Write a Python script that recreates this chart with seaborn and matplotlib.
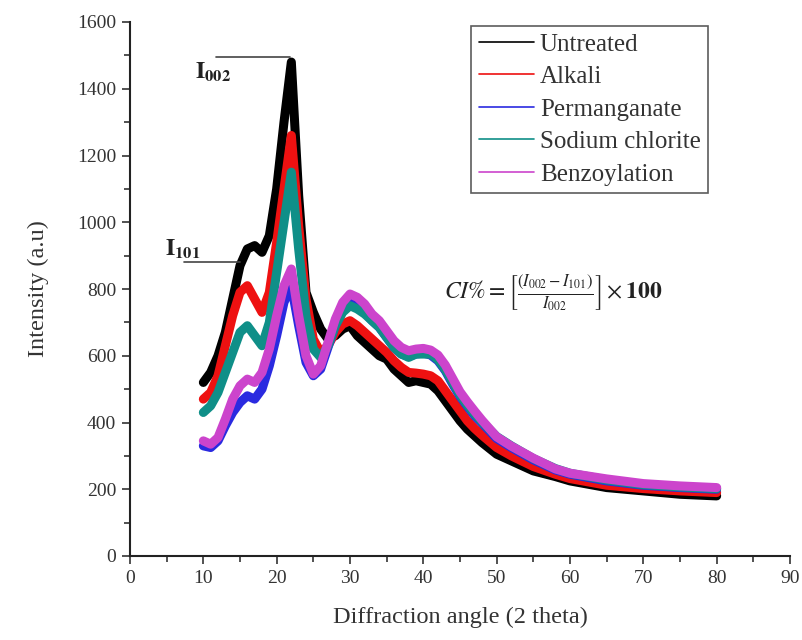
import numpy as np
import pandas as pd
import matplotlib
matplotlib.use("Agg")
import matplotlib.pyplot as plt
from matplotlib.lines import Line2D
import seaborn as sns

# ---- data ----
angle = [10, 11, 12, 13, 14, 15, 16, 17, 18, 19, 20, 21, 22, 23, 24, 25, 26, 27, 28, 29,
         30, 31, 32, 33, 34, 35, 36, 37, 38, 39, 40, 41, 42, 43, 44, 45, 46, 47, 48,
         50, 52, 55, 58, 60, 65, 70, 75, 80]

untreated = [520, 550, 600, 670, 770, 870, 920, 930, 910, 960, 1100, 1300, 1480, 1080, 790, 730, 680, 650, 660, 680,
             690, 660, 640, 620, 600, 590, 560, 540, 520, 525, 520, 515, 495, 465, 435, 405, 380, 360, 340,
             305, 285, 255, 238, 225, 205, 195, 185, 180]

alkali = [470, 490, 540, 630, 720, 790, 810, 770, 730, 790, 940, 1100, 1260, 990, 770, 650, 610, 630, 670, 695,
          705, 690, 670, 650, 630, 610, 585, 565, 550, 548, 545, 540, 525, 495, 465, 435, 405, 382, 362,
          325, 300, 268, 245, 232, 212, 202, 195, 190]

permanganate = [330, 325, 345, 390, 430, 460, 480, 470, 500, 570, 660, 760, 810, 690, 580, 540, 560, 625, 690, 735,
                760, 750, 730, 705, 685, 655, 625, 605, 598, 605, 608, 602, 585, 555, 515, 478, 448, 420, 398,
                352, 325, 288, 258, 245, 225, 212, 205, 200]

sodium_chlorite = [430, 450, 490, 550, 610, 670, 690, 660, 630, 700, 850, 1000, 1150, 920, 720, 620, 595, 630, 690, 730,
                   750, 740, 725, 705, 685, 655, 625, 605, 595, 605, 605, 605, 588, 558, 520, 482, 452, 425, 402,
                   358, 330, 292, 262, 248, 228, 214, 207, 202]

benzoylation = [345, 335, 355, 410, 470, 510, 530, 520, 550, 620, 720, 810, 860, 720, 600, 545, 570, 640, 710, 760,
                785, 775, 755, 725, 705, 675, 645, 625, 615, 620, 622, 617, 602, 572, 532, 492, 462, 434, 407,
                357, 329, 293, 261, 248, 231, 217, 210, 205]

series_names = ["Untreated", "Alkali", "Permanganate", "Sodium chlorite", "Benzoylation"]
series_values = [untreated, alkali, permanganate, sodium_chlorite, benzoylation]
series_colors = ["#000000", "#ee1111", "#2a2ae0", "#0f8f88", "#cc44cc"]

x_ticks = [0, 10, 20, 30, 40, 50, 60, 70, 80, 90]
y_ticks = [0, 200, 400, 600, 800, 1000, 1200, 1400, 1600]

# ---- build table ----
rows = []
for name, vals in zip(series_names, series_values):
    for a, v in zip(angle, vals):
        rows.append({"angle": a, "intensity": v, "sample": name})
df = pd.DataFrame(rows)

sns.set_theme(style="ticks")
plt.rcParams["font.family"] = ["Liberation Serif", "DejaVu Serif"]
plt.rcParams["mathtext.fontset"] = "stix"

fig = plt.figure(figsize=(8.02, 6.4), dpi=100)
ax = fig.add_axes([130 / 802, (640 - 556) / 640, 660 / 802, 534 / 640])

sns.lineplot(data=df, x="angle", y="intensity", hue="sample",
             hue_order=series_names, palette=series_colors,
             linewidth=6.5, ax=ax, legend=False, estimator=None, sort=False)

ax.set_xlim(0, 90)
ax.set_ylim(0, 1600)
ax.set_xticks(x_ticks)
ax.set_yticks(y_ticks)
ax.set_xticks(np.arange(5, 90, 10), minor=True)
ax.set_yticks(np.arange(100, 1600, 200), minor=True)
ax.tick_params(axis="both", which="major", direction="out", length=6, width=1.2,
               labelsize=14, colors="#333333", labelcolor="#333333", pad=4)
ax.tick_params(axis="both", which="minor", direction="out", length=4, width=1.2, colors="#333333")
for side in ["top", "right"]:
    ax.spines[side].set_visible(False)
for side in ["left", "bottom"]:
    ax.spines[side].set_linewidth(1.5)
    ax.spines[side].set_color("#222222")

ax.set_xlabel("Diffraction angle (2 theta)", fontsize=17.5, color="#333333", labelpad=14)
ax.set_ylabel("Intensity (a.u)", fontsize=17.5, color="#333333", labelpad=20)

# legend
handles = [Line2D([0], [0], color=c, lw=1.2) for c in series_colors]
leg = ax.legend(handles, series_names, loc="upper right", bbox_to_anchor=(0.876, 0.993),
                fontsize=18, frameon=True, fancybox=False, handlelength=2.2,
                handletextpad=0.25, labelspacing=0.4, borderpad=0.3, borderaxespad=0)
leg.get_frame().set_edgecolor("#333333")
leg.get_frame().set_linewidth(1.2)
for t in leg.get_texts():
    t.set_color("#333333")

# annotations
ax.plot([11.7, 21.8], [1496, 1496], color="#444444", lw=1.2)
ax.text(8.9, 1450, r"$\mathbf{I}_{\mathbf{002}}$", fontsize=17, ha="left", va="center", color="#222222")
ax.plot([7.4, 15.0], [880, 880], color="#444444", lw=1.2)
ax.text(4.8, 920, r"$\mathbf{I}_{\mathbf{101}}$", fontsize=17, ha="left", va="center", color="#222222")

ax.text(42.8, 790,
        r"$CI\%=\left[\frac{(I_{002}-I_{101})}{I_{002}}\right]\times \mathbf{100}$",
        fontsize=17, ha="left", va="center", color="#222222")

fig.savefig("out.png", dpi=100)
